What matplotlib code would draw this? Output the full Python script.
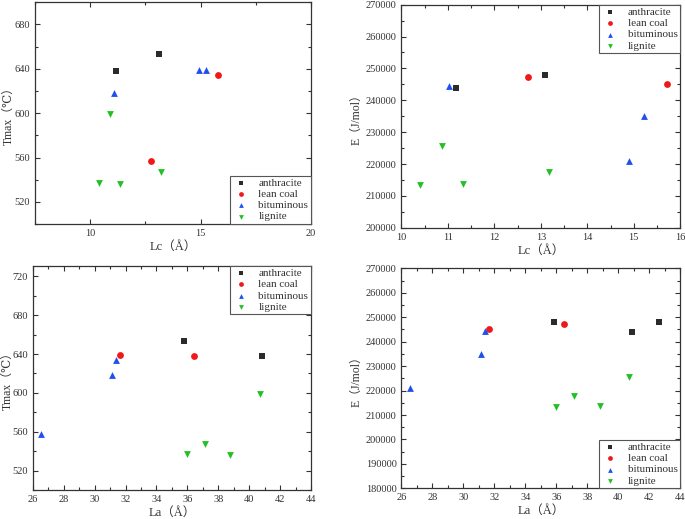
import matplotlib
matplotlib.use('Agg')
import matplotlib.pyplot as plt
from matplotlib.ticker import MultipleLocator, AutoMinorLocator

plt.rcParams['font.family'] = ['Liberation Serif', 'DejaVu Serif', 'Noto Sans CJK SC']
plt.rcParams['axes.unicode_minus'] = False

# series labels
coal_types = ['anthracite', 'lean coal', 'bituminous', 'lignite']

# Lc vs Tmax
lc_tmax_x = {'anthracite': [11.18, 13.12],
             'lean coal': [12.77, 15.78],
             'bituminous': [11.06, 14.93, 15.26],
             'lignite': [10.90, 10.42, 11.36, 13.21]}
lc_tmax_y = {'anthracite': [638, 653],
             'lean coal': [557, 634],
             'bituminous': [618, 639, 639],
             'lignite': [599, 537, 536, 547]}

# Lc vs E
lc_e_x = {'anthracite': [11.18, 13.08],
          'lean coal': [12.72, 15.72],
          'bituminous': [11.02, 14.90, 15.22],
          'lignite': [10.40, 10.88, 11.32, 13.17]}
lc_e_y = {'anthracite': [243900, 248000],
          'lean coal': [247200, 245100],
          'bituminous': [244400, 221000, 235200],
          'lignite': [213500, 225800, 213800, 217600]}

# La vs Tmax
la_tmax_x = {'anthracite': [35.78, 40.85],
             'lean coal': [31.64, 36.46],
             'bituminous': [26.55, 31.12, 31.38],
             'lignite': [40.72, 35.97, 37.12, 38.78]}
la_tmax_y = {'anthracite': [653, 638],
             'lean coal': [639, 638],
             'bituminous': [558, 618, 634],
             'lignite': [599, 537, 547, 536]}

# La vs E
la_e_x = {'anthracite': [35.83, 40.87, 42.62],
          'lean coal': [31.68, 36.48],
          'bituminous': [26.56, 31.13, 31.40],
          'lignite': [36.00, 37.15, 38.80, 40.72]}
la_e_y = {'anthracite': [248200, 243900, 248100],
          'lean coal': [245300, 247300],
          'bituminous': [220900, 235100, 244500],
          'lignite': [213300, 217600, 213700, 225700]}

styles = {'anthracite': dict(marker='s', color='#2b2b2b'),
          'lean coal': dict(marker='o', color='#f01818'),
          'bituminous': dict(marker='^', color='#1f4ff0'),
          'lignite': dict(marker='v', color='#22c022')}

fig = plt.figure(figsize=(6.85, 5.19), dpi=100)

ax_tl = fig.add_axes([0.051, 0.568, 0.403, 0.428])
ax_tr = fig.add_axes([0.586, 0.561, 0.407, 0.430])
ax_bl = fig.add_axes([0.048, 0.056, 0.406, 0.432])
ax_br = fig.add_axes([0.586, 0.059, 0.407, 0.424])

panels = [
    (ax_tl, lc_tmax_x, lc_tmax_y, 'Lc（Å）', 'Tmax（℃）', (7.5, 20), (500, 700), 5, 40, 'lower right', -0.075),
    (ax_tr, lc_e_x, lc_e_y, 'Lc（Å）', 'E（J/mol）', (10, 16), (200000, 270000), 1, 10000, 'upper right', -0.14),
    (ax_bl, la_tmax_x, la_tmax_y, 'La（Å）', 'Tmax（℃）', (26, 44), (500, 731), 2, 40, 'upper right', -0.07),
    (ax_br, la_e_x, la_e_y, 'La（Å）', 'E（J/mol）', (26, 44), (180000, 270000), 2, 10000, 'lower right', -0.14),
]

for ax, xs, ys, xl, yl, xlim, ylim, xmaj, ymaj, loc, ylab_x in panels:
    for name in coal_types:
        st = styles[name]
        ax.scatter(xs[name], ys[name], marker=st['marker'], color=st['color'],
                   s=24, linewidths=0, label=name, zorder=3)
    ax.set_xlim(*xlim)
    ax.set_ylim(*ylim)
    ax.xaxis.set_major_locator(MultipleLocator(xmaj))
    ax.yaxis.set_major_locator(MultipleLocator(ymaj))
    ax.xaxis.set_minor_locator(AutoMinorLocator(2))
    ax.yaxis.set_minor_locator(AutoMinorLocator(2))
    ax.tick_params(which='both', direction='in', top=True, right=True,
                   labelsize=7.5, colors='#333333', width=0.8)
    ax.tick_params(which='major', length=3.5)
    ax.tick_params(which='minor', length=2)
    for sp in ax.spines.values():
        sp.set_color('#333333')
        sp.set_linewidth(0.9)
    ax.set_xlabel(xl, fontsize=9, color='#333333', labelpad=2)
    ax.set_ylabel(yl, fontsize=8.5, color='#333333')
    ax.yaxis.set_label_coords(ylab_x, 0.5)
    leg = ax.legend(loc=loc, prop={'family': ['Liberation Serif'], 'size': 8},
                    fancybox=False, framealpha=1, edgecolor='#555555',
                    borderaxespad=0, handletextpad=0.9, labelspacing=0.12,
                    borderpad=0.25, markerscale=0.7, handlelength=1.4)
    leg.get_frame().set_linewidth(0.8)
    for t in leg.get_texts():
        t.set_color('#333333')

fig.savefig('out.png', dpi=100)
